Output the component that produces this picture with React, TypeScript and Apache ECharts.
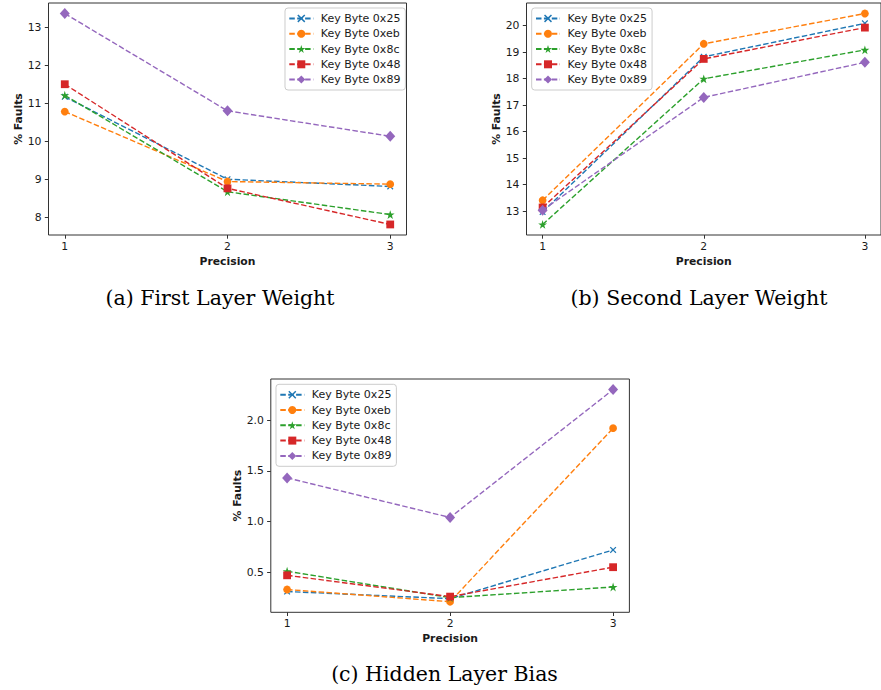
import React, { useEffect, useRef } from "react";
import * as echarts from "echarts";

const precision = [1, 2, 3];
const keyBytes = ["Key Byte 0x25", "Key Byte 0xeb", "Key Byte 0x8c", "Key Byte 0x48", "Key Byte 0x89"];
const colors = ["#1f77b4", "#ff7f0e", "#2ca02c", "#d62728", "#9467bd"];

// (a) First Layer Weight
const firstLayerWeight = [
  [11.18, 9.01, 8.82],
  [10.79, 8.95, 8.88],
  [11.22, 8.68, 8.08],
  [11.51, 8.77, 7.82],
  [13.37, 10.81, 10.14],
];
// (b) Second Layer Weight
const secondLayerWeight = [
  [12.97, 18.82, 20.08],
  [13.41, 19.31, 20.45],
  [12.5, 17.99, 19.08],
  [13.14, 18.74, 19.92],
  [13.04, 17.29, 18.61],
];
// (c) Hidden Layer Bias
const hiddenLayerBias = [
  [0.31, 0.24, 0.72],
  [0.33, 0.21, 1.92],
  [0.51, 0.25, 0.355],
  [0.47, 0.26, 0.55],
  [1.43, 1.04, 2.3],
];

const firstTicks = [8, 9, 10, 11, 12, 13];
const secondTicks = [13, 14, 15, 16, 17, 18, 19, 20];
const biasTicks = [0.5, 1.0, 1.5, 2.0];

const captions = ["(a) First Layer Weight", "(b) Second Layer Weight", "(c) Hidden Layer Bias"];

const X_PATH = "path://M0,1.3L1.3,0L5,3.7L8.7,0L10,1.3L6.3,5L10,8.7L8.7,10L5,6.3L1.3,10L0,8.7L3.7,5Z";
const STAR_PATH = "path://M50,0L61.2,34.5L97.6,34.5L68.2,55.9L79.4,90.5L50,69.1L20.6,90.5L31.8,55.9L2.4,34.5L38.8,34.5Z";
const symbols = [X_PATH, "circle", STAR_PATH, "rect", "diamond"];
const symbolSizes = [6.5, 7.8, 8.8, 7.8, [10, 11]];

const FONT = "DejaVu Sans";
const TXT = "#1a1a1a";
const FRAME = "#333333";

function padExtent(sets: number[][]) {
  const all = sets.flat();
  const lo = Math.min(...all);
  const hi = Math.max(...all);
  const m = (hi - lo) * 0.05;
  return [lo - m, hi + m];
}

export default function App() {
  const ref = useRef<HTMLDivElement>(null);
  useEffect(() => {
    if (!ref.current) return;
    const chart = echarts.init(ref.current, null, { renderer: "svg" });
    const datasets = [firstLayerWeight, secondLayerWeight, hiddenLayerBias];
    const ticks = [firstTicks, secondTicks, biasTicks];
    const grids = [
      { left: 48.5, top: 3, width: 358, height: 232 },
      { left: 526.5, top: 3, width: 358, height: 232 },
      { left: 270.8, top: 379, width: 358.6, height: 233.3 },
    ];
    const yNameGaps = [25, 25, 28];
    const legendPos = [
      { left: 285, top: 8 },
      { left: 531.7, top: 8 },
      { left: 276, top: 384.3 },
    ];
    const captionPos = [
      [220, 298],
      [699, 298],
      [444.5, 674],
    ];

    const xAxis = grids.map((_, i) => ({
      type: "value",
      gridIndex: i,
      min: 0.9,
      max: 3.1,
      axisLine: { show: false },
      axisTick: { show: true, customValues: precision, length: 3.7, lineStyle: { color: FRAME, width: 1 } },
      axisLabel: { customValues: precision, fontSize: 10.8, fontFamily: FONT, color: TXT, margin: 6 },
      splitLine: { show: false },
      name: "Precision",
      nameLocation: "middle",
      nameGap: i === 2 ? 20.5 : 21,
      nameTextStyle: { fontSize: 10.8, fontFamily: FONT, fontWeight: "bold", color: TXT },
    }));

    const yAxis = grids.map((_, i) => {
      const [mn, mx] = padExtent(datasets[i]);
      return {
        type: "value",
        gridIndex: i,
        min: mn,
        max: mx,
        axisLine: { show: false },
        axisTick: { show: true, customValues: ticks[i], length: 3.7, lineStyle: { color: FRAME, width: 1 } },
        axisLabel: {
          customValues: ticks[i],
          fontSize: 10.8,
          fontFamily: FONT,
          color: TXT,
          margin: 7,
          formatter: (v: number) => (i === 2 ? v.toFixed(1) : String(Math.round(v))),
        },
        splitLine: { show: false },
        name: "% Faults",
        nameLocation: "middle",
        nameRotate: 90,
        nameGap: yNameGaps[i],
        nameTextStyle: { fontSize: 10.8, fontFamily: FONT, fontWeight: "bold", color: TXT },
      };
    });

    const series: any[] = [];
    datasets.forEach((set, c) => {
      set.forEach((vals, k) => {
        series.push({
          type: "line",
          name: keyBytes[k],
          xAxisIndex: c,
          yAxisIndex: c,
          data: precision.map((x, j) => [x, vals[j]]),
          symbol: symbols[k],
          symbolSize: symbolSizes[k],
          showSymbol: true,
          lineStyle: { color: colors[k], width: 1.4, type: [5.5, 2.4] },
          itemStyle: { color: colors[k] },
          emphasis: { disabled: true },
          z: 2 + k,
        });
      });
    });

    const legend = legendPos.map((p) => ({
      show: true,
      data: keyBytes,
      orient: "vertical",
      left: p.left,
      top: p.top,
      itemWidth: 24,
      itemHeight: 10,
      itemGap: 3.3,
      selectedMode: false,
      backgroundColor: "rgba(255,255,255,0.8)",
      borderColor: "#cccccc",
      borderWidth: 1,
      borderRadius: 3,
      padding: [4.4, 5, 4.4, 3.3],
      textStyle: { fontSize: 11, fontFamily: FONT, color: TXT, lineHeight: 12, padding: [0, 0, 0, 2.5] },
    }));

    const graphic = captions.map((t, i) => ({
      type: "text",
      x: captionPos[i][0],
      y: captionPos[i][1],
      style: {
        text: t,
        fontFamily: "DejaVu Serif",
        fontSize: 20.5,
        fill: "#000",
        align: "center",
        verticalAlign: "middle",
      },
    }));

    chart.setOption({
      animation: false,
      backgroundColor: "#ffffff",
      grid: grids.map((g) => ({ ...g, show: true, borderColor: FRAME, borderWidth: 1, backgroundColor: "transparent" })),
      xAxis,
      yAxis,
      legend,
      series,
      graphic,
    });
    return () => chart.dispose();
  }, []);
  return <div ref={ref} style={{ position: "absolute", left: 0, top: 0, width: 881, height: 690 }} />;
}
